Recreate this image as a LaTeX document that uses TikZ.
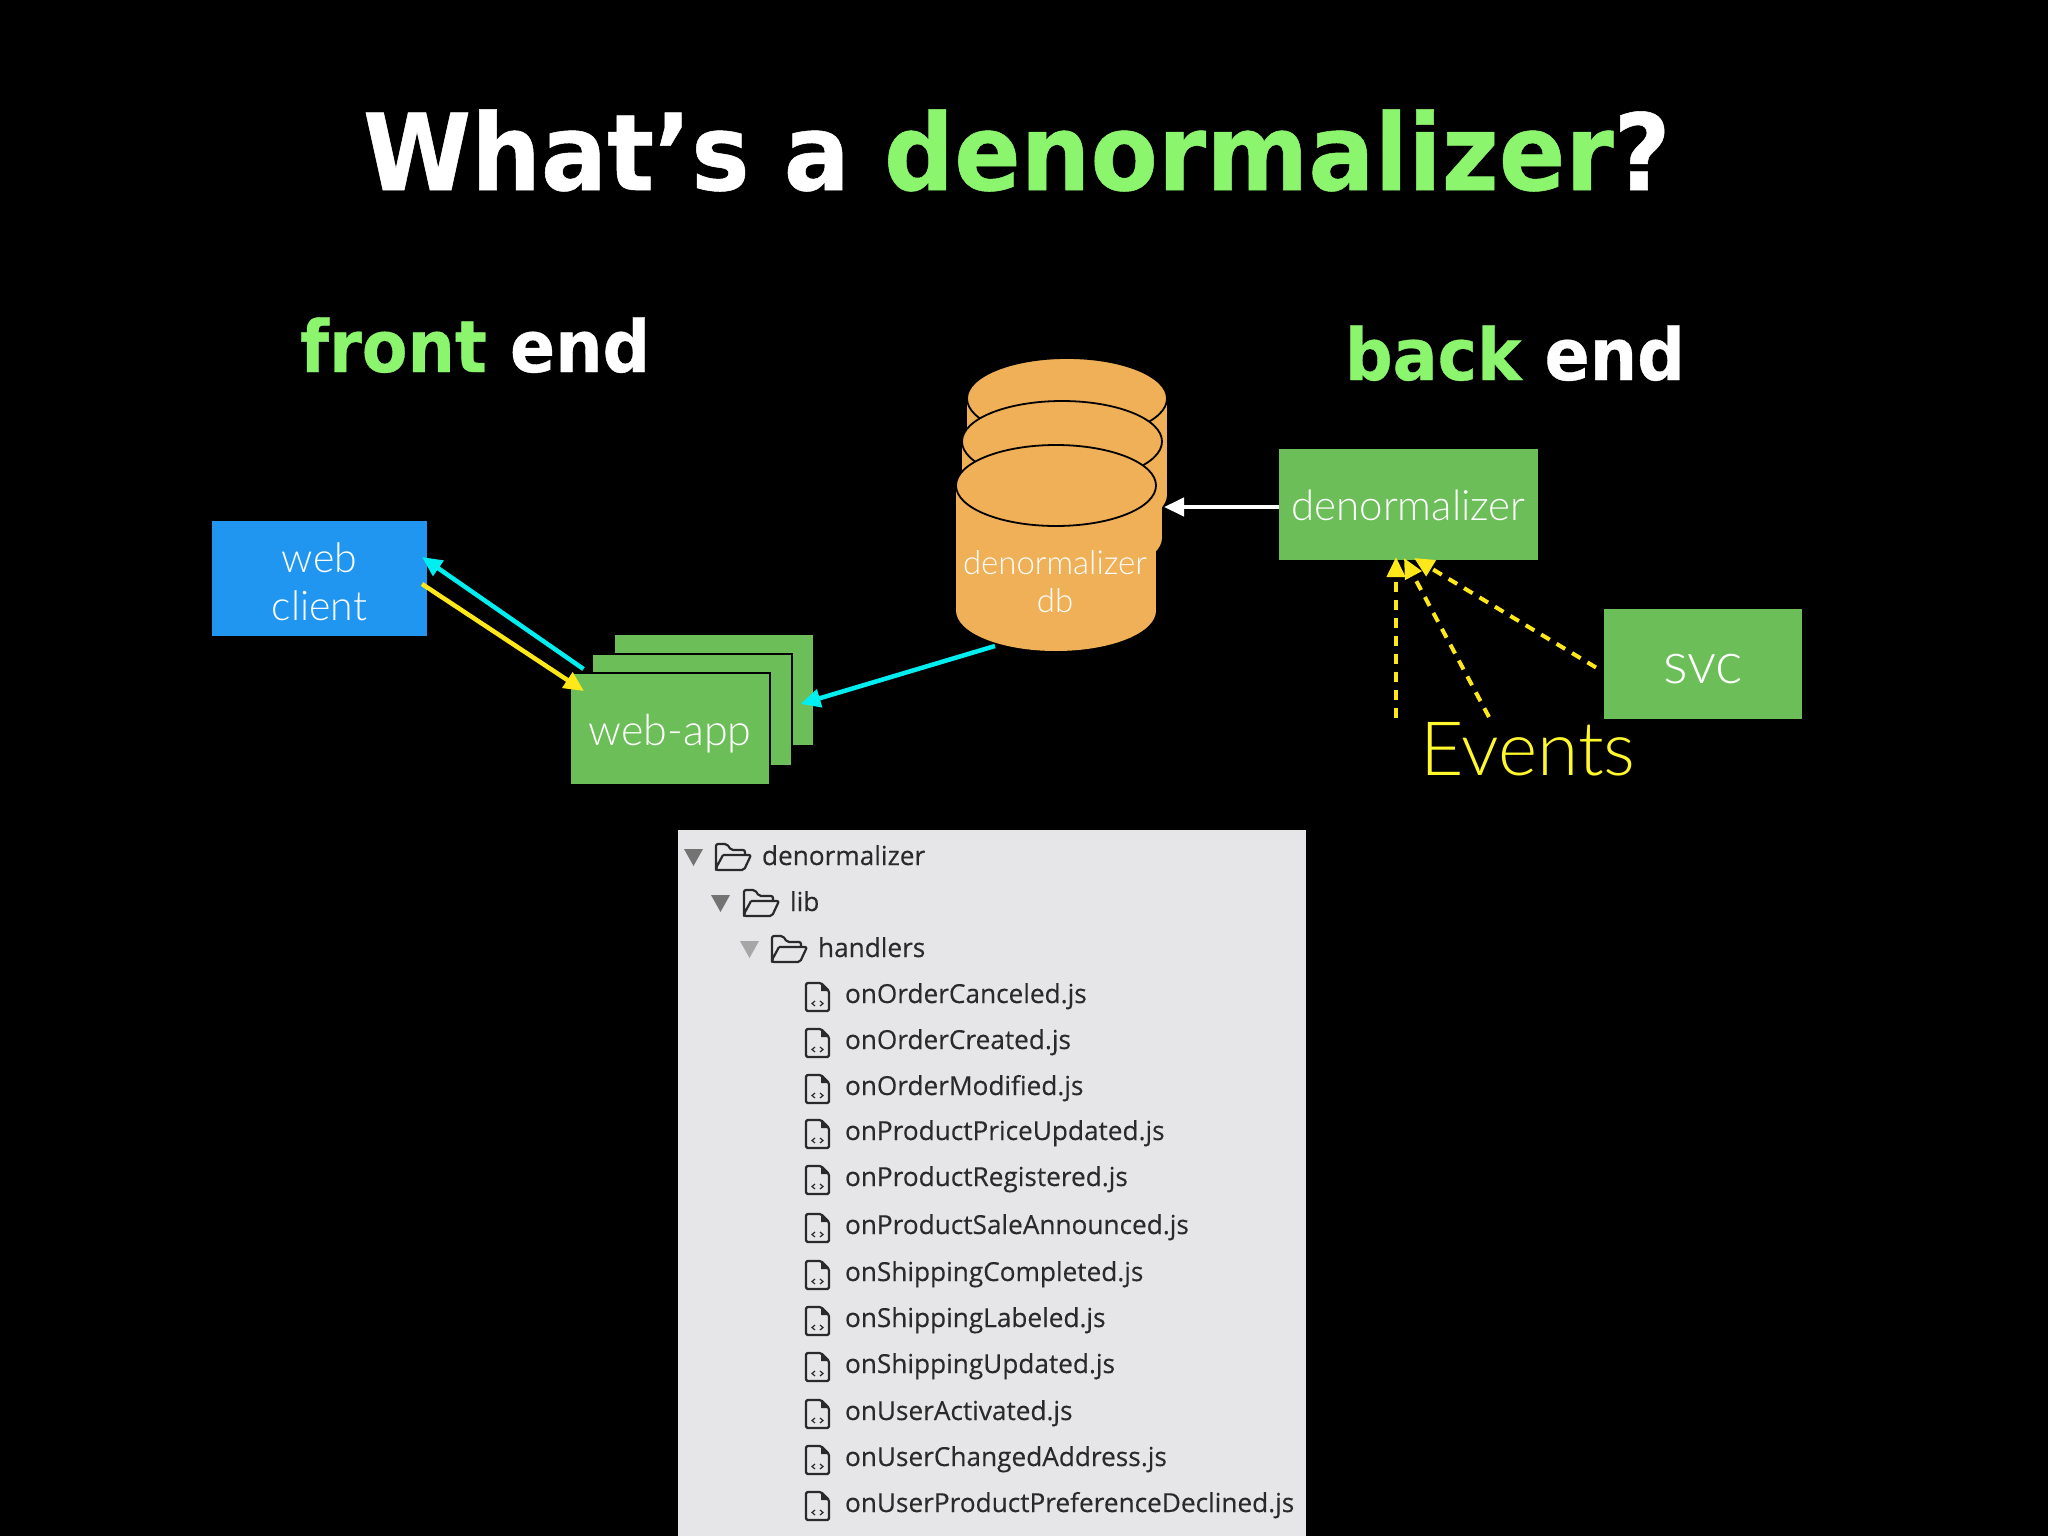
\documentclass[tikz,border=0pt]{standalone}
\usepackage{fontspec}
\setmainfont{Liberation Sans}
\newfontfamily\headfont{DejaVu Sans}[FakeStretch=0.925, FakeBold=0.5]
\newfontfamily\lightfont{Lato Light}
\newfontfamily\listfont{Open Sans}[FakeBold=0.3]
\usetikzlibrary{arrows.meta,positioning,shapes.geometric}
\usepackage{xcolor}
\definecolor{headgreen}{HTML}{8CF56E}
\definecolor{boxgreen}{HTML}{6CBE58}
\definecolor{boxblue}{HTML}{2196F0}
\definecolor{dborange}{HTML}{EFB057}
\definecolor{arrowcyan}{HTML}{00EEF0}
\definecolor{arrowyellow}{HTML}{FFE81A}
\definecolor{eventyellow}{HTML}{FFF92C}
\definecolor{panelgrey}{HTML}{E6E6E8}
\definecolor{listink}{HTML}{2A2A2A}
\tikzset{
    foldericon/.pic={
        \draw[listink, line width=2.2pt, line join=round, rounded corners=2pt]
            (0,-2) -- (0,-26) -- (11,-26) -- (15,-20) -- (29,-20) -- (29,-15)
            (7,-15) -- (35,-15) -- (28,0) -- (0,0) -- (0,-2) -- (7,-15);
    },
    fileicon/.pic={
        \draw[listink, line width=2.2pt, line join=round, rounded corners=1.5pt]
            (0,0) -- (0,-28) -- (15,-28) -- (23,-20) -- (23,0) -- cycle;
        \fill[listink] (15,-28) -- (23,-20) -- (15,-20) -- cycle;
        \draw[listink, line width=1.2pt]
            (9,-10) -- (6,-7.5) -- (9,-5)
            (14,-10) -- (17,-7.5) -- (14,-5);
    }
}
\begin{document}
\begin{tikzpicture}[x=1pt, y=-1pt,
    every node/.style={
        inner sep=0pt,
        outer sep=0pt
    },
    headline/.style={
        anchor=base west,
        text=white
    },
    greenbox/.style={
        rectangle,
        fill=boxgreen,
        text=white,
        font=\lightfont\fontsize{43}{48}\selectfont,
        text depth=0pt,
        minimum width=198pt,
        minimum height=110pt
    },
    stackbox/.style={
        greenbox,
        draw=black,
        line width=2pt,
        minimum width=200pt,
        minimum height=112pt
    },
    dbbody/.style={
        rectangle,
        fill=dborange,
        minimum width=200pt,
        minimum height=96pt
    },
    dbfoot/.style={
        ellipse,
        fill=dborange,
        minimum width=200pt,
        minimum height=81pt
    },
    dbtop/.style={
        dbfoot,
        draw=black,
        line width=1.8pt
    },
    link/.style={
        -{Triangle[length=20pt, width=18pt]},
        line width=4.5pt
    },
    eventlink/.style={
        -{Triangle[length=20pt, width=18pt]},
        line width=4pt,
        arrowyellow,
        dash pattern=on 10pt off 8pt
    },
    listname/.style={
        anchor=base west,
        text=listink,
        font=\listfont\fontsize{26.2}{30}\selectfont
    }
]
    \useasboundingbox (0,0) rectangle (2048,1536);
    \fill[black] (0,0) rectangle (2048,1536);

    \node (title) [headline, font=\headfont\bfseries\fontsize{106}{110}\selectfont, shift={(363, 190)}]
    {
        What’s a \textcolor{headgreen}{denormalizer}?
    };
    \node (front_end) [headline, font=\headfont\bfseries\fontsize{72}{80}\selectfont, shift={(300, 372)}]
    {
        \textcolor{headgreen}{front} end
    };
    \node (back_end) [headline, font=\headfont\bfseries\fontsize{72}{80}\selectfont, shift={(1345, 380)}]
    {
        \textcolor{headgreen}{back} end
    };

    \node (web_client) [greenbox, fill=boxblue, font=\lightfont\fontsize{41}{48}\selectfont, text height=30pt, minimum width=215pt, minimum height=115pt, shift={(319.5, 578.5)}]
    {
        \begin{tabular}{@{}c@{}}web\\client\end{tabular}
    };

    \node (web_app_back) [greenbox, shift={(713.5, 689.5)}] {};
    \node (web_app_mid) [stackbox, shift={(692, 709.5)}] {};
    \node (web_app) [stackbox, text height=32pt, shift={(670, 729)}]
    {
        web-app
    };

    \node (db_back) [dbbody, shift={(1067, 446.5)}] {};
    \node (db_back_foot) [dbfoot, shift={(1067, 494.5)}] {};
    \node (db_back_top) [dbtop, shift={(1067, 398.5)}] {};
    \node (db_mid) [dbbody, shift={(1062, 489.5)}] {};
    \node (db_mid_foot) [dbfoot, shift={(1062, 537.5)}] {};
    \node (db_mid_top) [dbtop, shift={(1062, 441.5)}] {};
    \node (db_front) [dbbody, minimum height=125pt, shift={(1056, 548)}] {};
    \node (db_front_foot) [dbfoot, shift={(1056, 610.5)}] {};
    \node (db_front_top) [dbtop, shift={(1056, 485.5)}] {};
    \node (db_name) [text=white, align=center, font=\lightfont\fontsize{33}{38}\selectfont, shift={(1055, 582)}]
    {
        denormalizer\\db
    };

    \node (denormalizer) [greenbox, font=\lightfont\fontsize{42}{48}\selectfont, text height=31pt, minimum width=259pt, minimum height=111pt, shift={(1408.5, 504.5)}]
    {
        denormalizer
    };
    \node (svc) [greenbox, font=\lightfont\fontsize{58}{60}\selectfont, text height=40pt, shift={(1703, 663.5)}]
    {
        svc
    };
    \node (events) [anchor=base west, text=eventyellow, font=\lightfont\fontsize{75}{80}\selectfont, shift={(1420, 775)}]
    {
        Events
    };
    \coordinate (event_one) at (1396, 718);
    \coordinate (event_two) at (1489, 717);

    \draw[link, arrowcyan] ([shift={(-86.5, -60)}]web_app.center) to ([shift={(-5, -21.5)}]web_client.east);
    \draw[link, arrowyellow] ([shift={(-5, 5.5)}]web_client.east) to ([shift={(-86, -38)}]web_app.center);
    \draw[link, arrowcyan] ([shift={(-61, 98)}]db_front.center) to ([shift={(-12, 14.5)}]web_app_back.east);
    \draw[link, white] ([shift={(0, 2.5)}]denormalizer.west) to ([shift={(8, 2.5)}]db_front.east |- denormalizer.west);
    \draw[eventlink] (event_one) to ([shift={(-12.5, -3)}]denormalizer.south);
    \draw[eventlink] (event_two) to ([shift={(-4.5, -2)}]denormalizer.south);
    \draw[eventlink] ([shift={(-8, 4)}]svc.west) to ([shift={(5.5, -2)}]denormalizer.south);

    \node (file_panel) [rectangle, fill=panelgrey, anchor=north west, minimum width=628pt, minimum height=706pt, shift={(678, 830)}] {};

    \foreach \i/\tx/\px/\py/\tint/\label in {
        0/684/762/865/55/denormalizer,
        1/711/790/911/55/lib,
        2/740/818/957/35/handlers
    } {
        \fill[black!\tint] (\tx, \py-16) -- (\tx+19, \py-16) -- (\tx+9.5, \py+1) -- cycle;
        \pic at (\px-46, \py+5) {foldericon};
        \node (folder_\i) [listname, shift={(\px, \py)}] {\label};
    }
    \foreach \i/\py/\label in {
        0/1003/onOrderCanceled.js,
        1/1049/onOrderCreated.js,
        2/1095/onOrderModified.js,
        3/1140/onProductPriceUpdated.js,
        4/1186/onProductRegistered.js,
        5/1234/onProductSaleAnnounced.js,
        6/1281/onShippingCompleted.js,
        7/1327/onShippingLabeled.js,
        8/1373/onShippingUpdated.js,
        9/1420/onUserActivated.js,
        10/1466/onUserChangedAddress.js,
        11/1512/onUserProductPreferenceDeclined.js
    } {
        \pic at (806, \py+8) {fileicon};
        \node (file_\i) [listname, shift={(845, \py)}] {\label};
    }
\end{tikzpicture}
\end{document}
